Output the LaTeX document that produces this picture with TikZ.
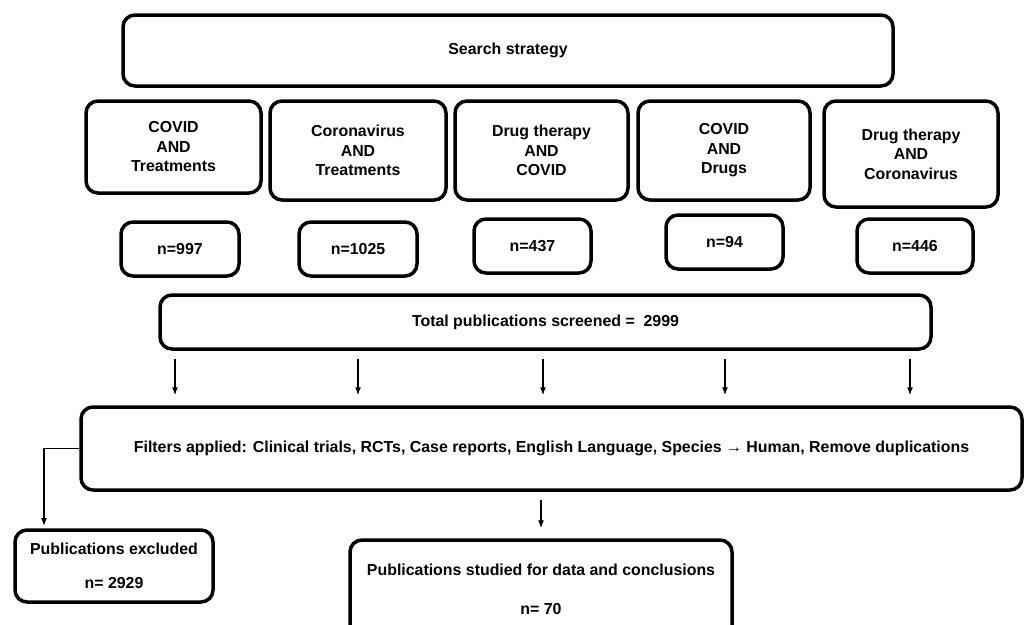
\documentclass[tikz,border=0pt]{standalone}
\usepackage{fontspec}
\setmainfont{Liberation Sans}
\usetikzlibrary{arrows.meta,positioning}
\tikzset{
  qbox/.style={draw,line width=3.5pt,rounded corners=12pt,align=center,inner sep=0pt,
    font=\bfseries\fontsize{15.9}{19.5}\selectfont},
  arr/.style={line width=1.4pt,-{Latex[length=8pt,width=6pt]}}
}
\begin{document}
\begin{tikzpicture}[x=1pt,y=-1pt]
        \useasboundingbox[fill=white] (0,0) rectangle (1028,624);
        \clip (0,0) rectangle (1028,624);
        \node[qbox,minimum width=770,minimum height=71] (search) at (508,50.5) {Search strategy};
        \node[qbox,minimum width=175,minimum height=92] (q1) at (173.5,147) {COVID\\AND\\Treatments};
        \node[qbox,minimum width=176,minimum height=99] (q2) at (358,150.5) {Coronavirus\\AND\\Treatments};
        \node[qbox,minimum width=173,minimum height=99] (q3) at (541.5,150.5) {Drug therapy\\AND\\COVID};
        \node[qbox,minimum width=172,minimum height=99] (q4) at (724,150.5) {COVID\\AND\\Drugs};
        \node[qbox,minimum width=174,minimum height=106] (q5) at (911,154) {Drug therapy\\AND\\Coronavirus};
        \node[qbox,minimum width=118,minimum height=54] (n1) at (180,249) {n=997};
        \node[qbox,minimum width=118,minimum height=54] (n2) at (358,249) {n=1025};
        \node[qbox,minimum width=117,minimum height=54] (n3) at (532.5,246) {n=437};
        \node[qbox,minimum width=117,minimum height=54] (n4) at (724.5,242) {n=94};
        \node[qbox,minimum width=116,minimum height=54] (n5) at (915,246) {n=446};
        \node[qbox,minimum width=771,minimum height=54] (total) at (545.5,322) {Total publications screened =\ \ 2999};
        \node[qbox,minimum width=941,minimum height=83] (filters) at (551.5,448.5)
          {Filters applied: Clinical trials, RCTs,\ Case reports,\ English Language,\ Species → Human,\ Remove duplications};
        \node[qbox,minimum width=198,minimum height=72] (excl) at (114,566) {Publications excluded\\[14pt]n= 2929};
        \node[qbox,minimum width=382,minimum height=99] (stud) at (541,589.5) {Publications studied for data and conclusions\\[19pt]n= 70};
        \coordinate (exclpt) at (44,531);
        \foreach \x in {175,358,543,725,910}
          \draw[arr,shorten <=8pt,shorten >=10pt] (total.south -| \x,0) -- (filters.north -| \x,0);
        \draw[arr,shorten >=5pt] (filters.west) -| (exclpt);
        \draw[arr,shorten <=8pt,shorten >=10pt] (filters.south -| stud.north) -- (stud.north);
      \end{tikzpicture}
\end{document}
